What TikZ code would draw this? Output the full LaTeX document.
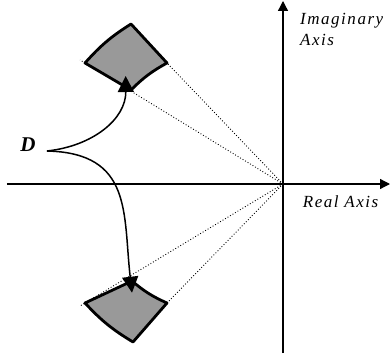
\documentclass[tikz,border=0pt]{standalone}
\usepackage{fontspec}
\setmainfont{Liberation Serif}
\usetikzlibrary{arrows.meta}
\begin{document}
\begin{tikzpicture}[x=1pt,y=1pt,
  axis/.style={line width=1.3pt,-{Triangle[length=10pt,width=10pt]}},
  ray/.style={dotted,line width=0.9pt},
  sector/.style={draw=black,fill=black!40,line width=2.8pt,line join=round},
  pointer/.style={line width=1.5pt,-{Triangle[length=16pt,width=16pt]}},
  axlabel/.style={font=\fontsize{17}{20}\selectfont\itshape\addfontfeature{LetterSpace=9},anchor=base west,inner sep=0pt}]
\useasboundingbox (-283,-169) rectangle (107,184);
% origin and axes ends
\coordinate (O) at (0,0);
\coordinate (xl) at (-276,0);
\coordinate (xr) at (107,0);
\coordinate (yb) at (0,-169);
\coordinate (yt) at (0,183);
% upper sector corners
\coordinate (A) at (-152,160);
\coordinate (B) at (-198,121);
\coordinate (C) at (-152,94);
\coordinate (E) at (-116,121);
\coordinate (Bx) at (-203,124);
% lower sector corners
\coordinate (A2) at (-150,-158);
\coordinate (B2) at (-198,-119);
\coordinate (C2) at (-151,-97);
\coordinate (E2) at (-116,-119);
\coordinate (B2x) at (-203,-122);
% dotted rays
\draw[ray] (O) -- (E);
\draw[ray] (O) -- (Bx);
\draw[ray] (O) -- (E2);
\draw[ray] (O) -- (B2x);
% axes
\draw[axis] (xl) -- (xr);
\draw[axis] (yb) -- (yt);
% sectors
\draw[sector] (E) -- (A) to[bend right=8] (B) -- (C) to[bend left=8] cycle;
\draw[sector] (E2) -- (A2) to[bend left=8] (B2) -- (C2) to[bend right=8] cycle;
% labels
\node[font=\fontsize{21}{24}\selectfont\bfseries\itshape,anchor=base,inner sep=0pt] (D) at (-255,33) {D};
\node[axlabel] (im1) at (17,159.7) {Imaginary};
\node[axlabel] (im2) at (17,138.3) {Axis};
\node[axlabel] (re) at (19.7,-23.7) {Real Axis};
% pointer curves
\coordinate (Ds) at (-236,33);
\coordinate (T1) at (-157.3,108);
\coordinate (T2) at (-151,-108.7);
\draw[pointer] (Ds) .. controls (-190,38) and (-157,65) .. (T1);
\draw[pointer] (Ds) .. controls (-150,31) and (-160,-30) .. (T2);
\end{tikzpicture}
\end{document}
